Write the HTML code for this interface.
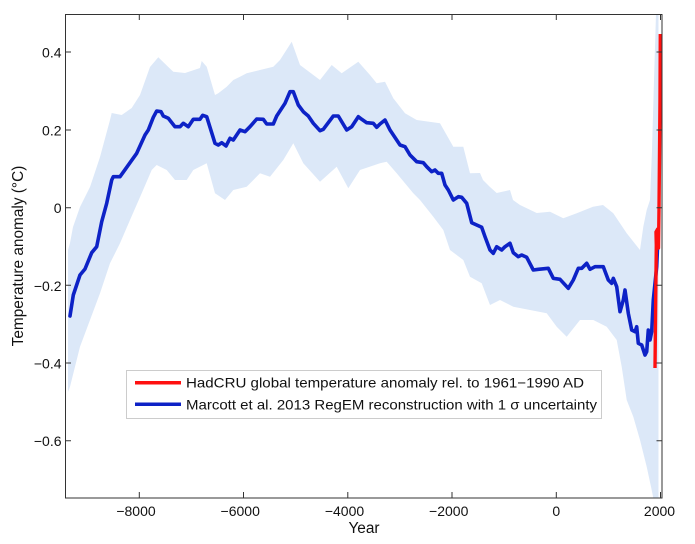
<!DOCTYPE html>
<html><head><meta charset="utf-8"><style>
html,body{margin:0;padding:0;background:#fff;}
svg{display:block;font-family:"Liberation Sans",Arial,sans-serif;}
</style></head><body>
<svg width="695" height="544" viewBox="0 0 695 544" xmlns="http://www.w3.org/2000/svg">
<rect x="0" y="0" width="695" height="544" fill="#fff"/>
<defs><clipPath id="pa"><rect x="65" y="14" width="597" height="484"/></clipPath></defs>
<g clip-path="url(#pa)">
<polygon fill="#dce8f8" points="68,250 70,243 73,227 80,207 90,187 100,157 110,120 111.7,113 121.7,115 131.7,108 140,95 150,67 158.3,57.3 168.3,67 173.3,71.7 185,73 200,68 201.7,61 206.7,66.7 215,95 218.3,93.3 226.7,86.7 233.3,80 240,76.7 246.7,73.3 260,70 273.3,66.7 280,60 291.7,41.7 300,65 320,80 331.7,65 341.7,73.3 358.3,61.7 370,75 376.7,83.3 385,81.7 393.3,98.3 405,113.3 416.7,120 440,123.3 453.3,146.7 463.3,146.7 470,173.3 480,173 483,180 490,187 496.7,193 510,190 513,200 520,205 536.7,213 550,211.7 563.3,218.3 576.7,213.3 593,206.7 603,205 613.3,213.3 626.7,233.3 640,250 643.3,226.7 646.7,210 650,200 652,150 654,80 656,14 658.5,14 658.5,498 653.3,498 651.7,490 646.7,466.7 640,440 633.3,416.7 626.7,400 621.7,366.7 616.7,340 606.7,326.7 593.3,320 580,320 566.7,336.7 556.7,326.7 546.7,313.3 530,310 513.3,306.7 500,300 490,305 481.7,283.3 470,276.7 463.3,260 450,250 443.3,230 433.3,216.7 420,200 413.3,193.3 396.7,173.3 386.7,161.7 380,163.3 360,170 348.3,188.3 336.7,166.7 320,181.7 303.3,163.3 293.3,143.3 283.3,160 270,176.7 260,173.3 246.7,186.7 233.3,190 225,200 215,193.3 206.7,163.3 193.3,170 186.7,180 175,180 166.7,170 156.7,165 151.7,170 141.7,193.3 130,220 120,243.3 110,263.3 100,293.3 90,320 80,346.7 70,386.7 68,392"/>
<polyline fill="none" stroke="#0d22c6" stroke-width="3.6" stroke-linejoin="round" stroke-linecap="round" points="70,316 73.3,295 80,275 85,269 91.7,252.7 96.7,246.7 101.7,221.7 106.7,203.3 111.7,180 113.3,176.7 120,176.7 130,162.7 136.7,153.3 145,135 148.3,130 153.3,117.3 156.7,111 161,111.7 163.3,116 168.3,118.3 175,126.7 180,126.7 183.3,123.3 188.3,126.7 193.3,119.3 200,119.3 202.7,115.3 206.7,116.7 215,143.3 218.3,145 221.7,142.7 226,146 230,138.3 233.3,140 240,130 245,131.7 250,126.7 256.7,119 263.3,119.3 266.7,124 273.3,124 276.7,116 285,103.3 290,91.7 293.3,91.7 298.3,105 303.3,111.7 308.3,116 313.3,123.3 320,130.7 323.3,129.3 333.3,116 338.3,116 346.7,130 351.7,126.7 358.3,116.7 361.7,119.3 366.7,122.7 373.3,123.3 376.7,127.3 380,124 385,120 390,130 400,145 405,146.7 410,155 416.7,161.7 423.3,162.7 426.7,166.7 431.7,171.7 435,170 438.3,173.3 441.7,173.3 445,185 448.3,190 453.3,200 458.3,196.7 461.7,197.3 466.7,203.3 471.7,222.7 476.7,225 481.7,227.3 485,236.7 490,250 493.3,253.3 496.7,246.7 501.7,250 505,246.7 510,243.3 513.3,252.7 518.3,256.7 521.7,255 526.7,257.3 533.3,270 538.3,269.3 548.3,268.3 553.3,278.3 560,279.3 568.3,288.3 573.3,280 578.3,268.3 581.7,268.3 586.7,263.3 590,269.3 595,266.7 603.3,266.7 608.3,280 611.7,283.3 613.3,278.3 616.7,286.7 620,311.7 623.3,300 625,290 628.3,313.3 631.7,330 635,331.7 636.7,326.7 638.3,343.3 641.7,345 645,355 646.7,351.7 648.3,330 650,340 651.7,331.7 653.3,300 656.7,266.7 657.7,243.3"/>
<polyline fill="none" stroke="#ff1010" stroke-width="3.4" stroke-linejoin="round" points="655,368 655.7,300 656.3,245 656,232 657.7,229 658.5,248 659,210 660,100 660.3,34"/>
</g>
<g stroke="#333" stroke-width="1" fill="none">
<rect x="65.5" y="14.5" width="596.5" height="483.5"/>
<path d="M65.5,52H71M65.5,130H71M65.5,207.7H71M65.5,285.3H71M65.5,363H71M65.5,440.7H71"/>
<path d="M662,52H656.5M662,130H656.5M662,207.7H656.5M662,285.3H656.5M662,363H656.5M662,440.7H656.5"/>
<path d="M139.3,498V492M243.5,498V492M347.8,498V492M452,498V492M556.3,498V492M660.5,498V492"/>
<path d="M139.3,14.5V20M243.5,14.5V20M347.8,14.5V20M452,14.5V20M556.3,14.5V20M660.5,14.5V20"/>
</g>
<g font-size="14" fill="#111" text-anchor="end">
<text x="61.5" y="57.5">0.4</text>
<text x="61.5" y="135.5">0.2</text>
<text x="61.5" y="213">0</text>
<text x="61.5" y="290.8">−0.2</text>
<text x="61.5" y="368.5">−0.4</text>
<text x="61.5" y="446.2">−0.6</text>
</g>
<g font-size="14" fill="#111" text-anchor="middle">
<text x="136" y="516">−8000</text>
<text x="240.2" y="516">−6000</text>
<text x="344.5" y="516">−4000</text>
<text x="448.7" y="516">−2000</text>
<text x="556.3" y="516">0</text>
<text x="659.5" y="516">2000</text>
</g>
<text x="364" y="533" font-size="15.4" fill="#111" text-anchor="middle">Year</text>
<text transform="translate(23,256) rotate(-90)" font-size="15.4" fill="#111" text-anchor="middle">Temperature anomaly (°C)</text>
<rect x="126.5" y="370.5" width="475" height="48" fill="#fff" stroke="#ccc" stroke-width="1"/>
<line x1="135" y1="382.7" x2="181" y2="382.7" stroke="#ff1010" stroke-width="3.5"/>
<line x1="135" y1="404.3" x2="181" y2="404.3" stroke="#0d22c6" stroke-width="3.5"/>
<text x="186" y="387.7" font-size="14" fill="#111" textLength="398" lengthAdjust="spacingAndGlyphs">HadCRU global temperature anomaly rel. to 1961−1990 AD</text>
<text x="186" y="409.3" font-size="14" fill="#111" textLength="411" lengthAdjust="spacingAndGlyphs">Marcott et al. 2013 RegEM reconstruction with 1 σ uncertainty</text>
</svg>
</body></html>
